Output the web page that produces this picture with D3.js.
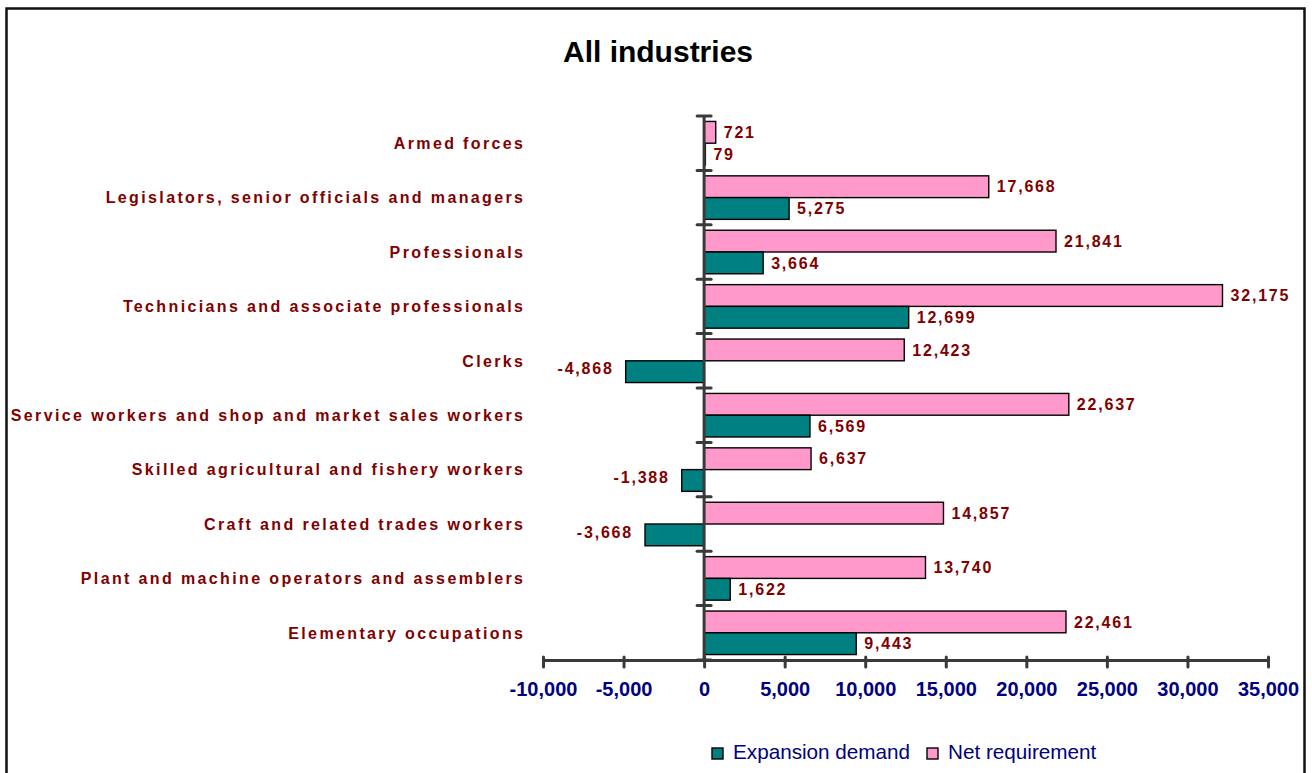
<!DOCTYPE html>
<html>
<head>
<meta charset="utf-8">
<script src="https://cdn.jsdelivr.net/npm/d3@7"></script>
<style>
  html, body { margin: 0; padding: 0; background: #fff; }
  svg { display: block; }
</style>
</head>
<body>
<script>
// Occupations, listed top to bottom
const categories = [
  "Armed forces",
  "Legislators, senior officials and managers",
  "Professionals",
  "Technicians and associate professionals",
  "Clerks",
  "Service workers and shop and market sales workers",
  "Skilled agricultural and fishery workers",
  "Craft and related trades workers",
  "Plant and machine operators and assemblers",
  "Elementary occupations"
];
const expansionDemand = [79, 5275, 3664, 12699, -4868, 6569, -1388, -3668, 1622, 9443];
const netRequirement  = [721, 17668, 21841, 32175, 12423, 22637, 6637, 14857, 13740, 22461];
const seriesNames = ["Net requirement", "Expansion demand"];
const legendNames = ["Expansion demand", "Net requirement"];
const xTicks = [-10000, -5000, 0, 5000, 10000, 15000, 20000, 25000, 30000, 35000];
const chartTitle = "All industries";

const W = 1312, H = 773;
const colors = { "Expansion demand": "#008080", "Net requirement": "#FF99CC" };
const labelRed = "#800000";
const navy = "#000080";
const axisGray = "#3a3a3a";

// Thousands separator with a plain hyphen for negatives
const fmt = d3.formatLocale({ decimal: ".", thousands: ",", grouping: [3], currency: ["", ""], minus: "-" }).format(",");

const svg = d3.select("body").append("svg")
  .attr("width", W).attr("height", H)
  .style("font-family", "Arial, 'Liberation Sans', sans-serif");

// Outer frame
svg.append("rect")
  .attr("x", 6.5).attr("y", 8.5)
  .attr("width", 1298).attr("height", 800)
  .attr("fill", "none").attr("stroke", "#111").attr("stroke-width", 2.5);

// Title
svg.append("text")
  .attr("x", 658).attr("y", 62)
  .attr("text-anchor", "middle")
  .attr("font-size", 30).attr("font-weight", "bold")
  .attr("fill", "#000")
  .text(chartTitle);

// Scales
const x = d3.scaleLinear().domain([-10000, 35000]).range([543, 1268]);
const y = d3.scaleBand().domain(categories).range([116, 660]).paddingInner(0).paddingOuter(0);
const bw = y.bandwidth();
const sub = d3.scaleBand().domain(seriesNames).range([bw * 0.1, bw * 0.9]).padding(0);

const rows = categories.map((c, i) => ({
  cat: c,
  values: [
    { series: "Net requirement", value: netRequirement[i] },
    { series: "Expansion demand", value: expansionDemand[i] }
  ]
}));

// Bars
const groups = svg.append("g").selectAll("g")
  .data(rows).join("g")
  .attr("transform", d => `translate(0,${y(d.cat)})`);

groups.selectAll("rect")
  .data(d => d.values).join("rect")
  .attr("x", d => x(Math.min(0, d.value)))
  .attr("y", d => sub(d.series))
  .attr("width", d => Math.abs(x(d.value) - x(0)))
  .attr("height", sub.bandwidth())
  .attr("fill", d => colors[d.series])
  .attr("stroke", "#000").attr("stroke-width", 1.4);

// Value labels
groups.selectAll("text.val")
  .data(d => d.values).join("text")
  .attr("class", "val")
  .attr("x", d => d.value >= 0 ? x(d.value) + 8 : x(d.value) - 12)
  .attr("y", d => sub(d.series) + sub.bandwidth() / 2 - (d.value < 0 ? 3 : 0))
  .attr("dy", "0.36em")
  .attr("text-anchor", d => d.value >= 0 ? "start" : "end")
  .attr("font-size", 16).attr("font-weight", "bold")
  .attr("letter-spacing", "1.8px")
  .attr("fill", labelRed)
  .text(d => fmt(d.value));

// X axis
const xAxis = d3.axisBottom(x).tickValues(xTicks).tickFormat(fmt).tickSize(0);
const gx = svg.append("g").attr("transform", "translate(0,660)").call(xAxis);
gx.select(".domain").attr("stroke", axisGray).attr("stroke-width", 3);
gx.selectAll(".tick line").remove();
gx.selectAll(".tick").append("line")
  .attr("y1", -3).attr("y2", 7)
  .attr("stroke", axisGray).attr("stroke-width", 3).attr("stroke-linecap", "round");
gx.selectAll(".tick text")
  .attr("y", 22).attr("dy", "0.71em")
  .attr("font-size", 20).attr("font-weight", "bold")
  .attr("font-family", "Arial, 'Liberation Sans', sans-serif")
  .attr("fill", navy);

// Y axis at zero
const gy = svg.append("g");
gy.append("line")
  .attr("x1", x(0)).attr("x2", x(0))
  .attr("y1", y.range()[0]).attr("y2", y.range()[1])
  .attr("stroke", axisGray).attr("stroke-width", 3);
const boundaries = categories.map(c => y(c)).concat([y.range()[1]]);
gy.selectAll("line.cross")
  .data(boundaries).join("line")
  .attr("class", "cross")
  .attr("x1", x(0) - 7).attr("x2", x(0) + 7)
  .attr("y1", d => d).attr("y2", d => d)
  .attr("stroke", axisGray).attr("stroke-width", 3).attr("stroke-linecap", "round");

// Category labels
const catLS = 2.37;
svg.append("g").selectAll("text")
  .data(categories).join("text")
  .attr("x", 523 + catLS)
  .attr("y", d => y(d) + bw / 2)
  .attr("dy", "0.36em")
  .attr("text-anchor", "end")
  .attr("font-size", 16).attr("font-weight", "bold")
  .attr("letter-spacing", catLS + "px")
  .attr("fill", labelRed)
  .text(d => d);

// Legend
const legendX = [712, 927];
const lg = svg.append("g").selectAll("g")
  .data(legendNames).join("g")
  .attr("transform", (d, i) => `translate(${legendX[i]},748)`);
lg.append("rect")
  .attr("width", 11).attr("height", 11)
  .attr("fill", d => colors[d])
  .attr("stroke", "#000").attr("stroke-width", 1.4);
lg.append("text")
  .attr("x", 21).attr("y", 11)
  .attr("font-size", 20.7)
  .attr("fill", navy)
  .text(d => d);
</script>
</body>
</html>
